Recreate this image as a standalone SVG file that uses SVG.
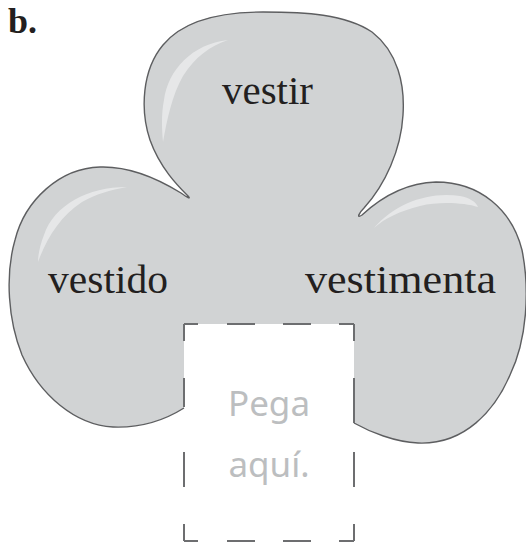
<svg xmlns="http://www.w3.org/2000/svg" width="526" height="543" viewBox="0 0 526 543">
<style>
.lbl{font-family:"Liberation Serif","Times New Roman",serif;font-size:40px;fill:#231f20}
.hl{fill:#e6e7e8;stroke:none}
.dash{stroke:#6d6e70;stroke-width:2;fill:none}
.paste{font-family:"Noto Sans","Liberation Sans",sans-serif;font-size:35px;fill:#bcbec0;text-anchor:middle}
</style>
<rect width="526" height="543" fill="#ffffff"/>
<text x="8" y="33" style="font-family:'Liberation Serif','Times New Roman',serif;font-weight:bold;font-size:36px;fill:#231f20">b.</text>
<g id="trebol">
<path fill="#d1d3d4" stroke="none" d="M 184,408 C 165,420 140,428 113,427 C 75,425 40,395 22,355 C 8,320 5,275 15,240 C 25,200 60,168 100,167 C 130,166 160,180 181,193 C 188,198 192,200 187,195 C 178,186 160,168 150,140 C 140,110 142,70 163,45 C 185,18 225,12 263,12 C 305,12 345,14 372,32 C 398,52 405,85 403,115 C 401,150 385,185 364,208 C 359,213 356,219 362,215 C 375,203 400,183 436,182 C 480,182 512,210 522,250 C 530,290 527,340 510,375 C 495,410 465,445 418,443 C 395,442 370,432 354,423 L 354,324 L 184,324 Z"/>
<path fill="none" stroke="#5d5e60" stroke-width="1.4" stroke-linejoin="round" d="M 184,408 C 165,420 140,428 113,427 C 75,425 40,395 22,355 C 8,320 5,275 15,240 C 25,200 60,168 100,167 C 130,166 160,180 181,193 C 188,198 192,200 187,195 C 178,186 160,168 150,140 C 140,110 142,70 163,45 C 185,18 225,12 263,12 C 305,12 345,14 372,32 C 398,52 405,85 403,115 C 401,150 385,185 364,208 C 359,213 356,219 362,215 C 375,203 400,183 436,182 C 480,182 512,210 522,250 C 530,290 527,340 510,375 C 495,410 465,445 418,443 C 395,442 370,432 354,423"/>
<path class="hl" d="M 228,40 C 192,44 168,70 164,100 C 161,115 162,130 163,142 C 167,120 172,95 183,76 C 195,57 210,46 228,40 Z"/>
<path class="hl" d="M 127,187 C 88,187 54,205 44,235 C 40,245 38,255 38,262 C 46,240 60,216 82,202 C 96,194 110,190 127,187 Z"/>
<path class="hl" d="M 374,228 C 395,203 430,191 460,196 C 470,198 476,202 478,207 C 465,203 440,201 420,206 C 400,211 385,218 374,228 Z"/>
</g>
<g id="node-vestir"><text class="lbl" x="222" y="104" textLength="91" lengthAdjust="spacingAndGlyphs">vestir</text></g>
<g id="node-vestido"><text class="lbl" x="48" y="293" textLength="120" lengthAdjust="spacingAndGlyphs">vestido</text></g>
<g id="node-vestimenta"><text class="lbl" x="305" y="293" textLength="191" lengthAdjust="spacingAndGlyphs">vestimenta</text></g>
<g id="node-pega">
<line class="dash" x1="184" y1="324" x2="354" y2="324" stroke-dasharray="14 29 28 28 28 28 15"/>
<line class="dash" x1="184" y1="541" x2="354" y2="541" stroke-dasharray="14 29 28 28 28 28 15"/>
<line class="dash" x1="184" y1="324" x2="184" y2="541" stroke-dasharray="17 37 29 45 35 37 17"/>
<line class="dash" x1="354" y1="324" x2="354" y2="541" stroke-dasharray="17 37 45 29 35 37 17"/>
<text class="paste" x="269" y="416">Pega</text>
<text class="paste" x="269" y="477">aquí.</text>
</g>
<g id="connectors"/>
</svg>
